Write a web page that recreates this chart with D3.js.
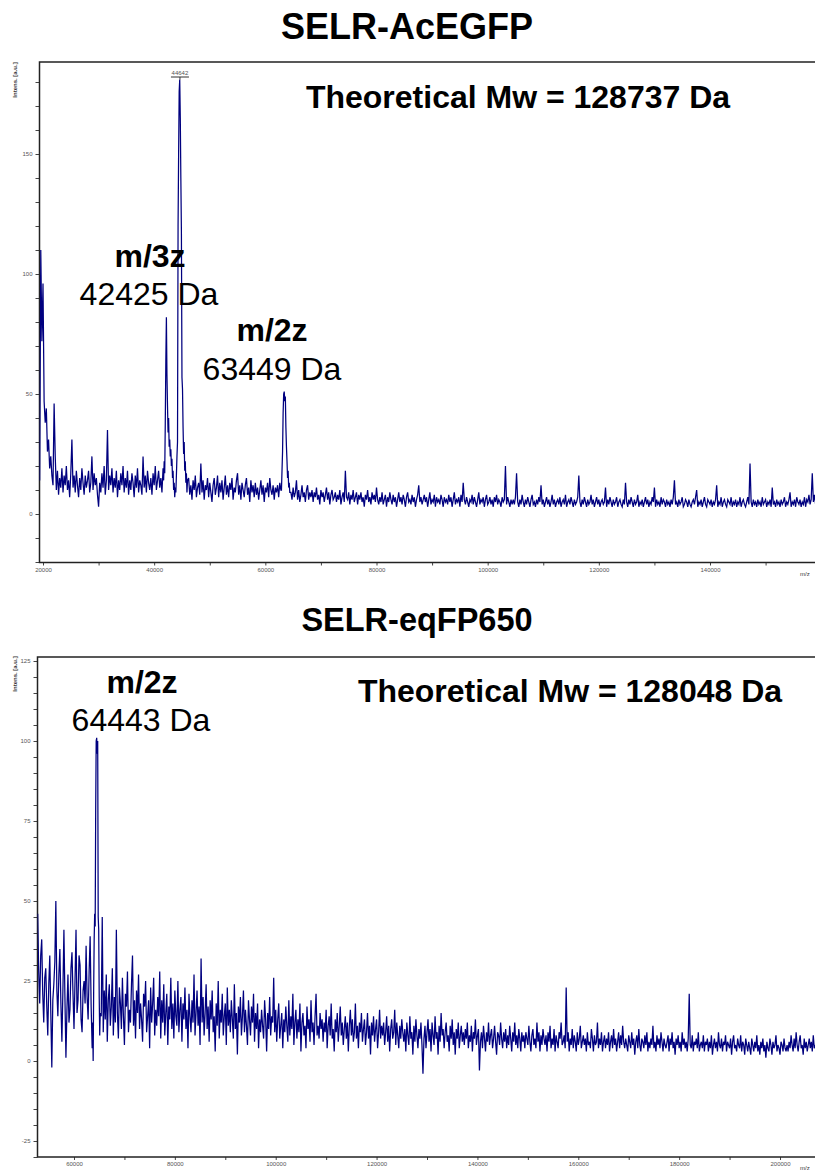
<!DOCTYPE html>
<html>
<head>
<meta charset="utf-8">
<script src="https://cdn.jsdelivr.net/npm/d3@7/dist/d3.min.js"></script>
<style>
  body { margin: 0; background: #fff; }
  svg { display: block; font-family: "Liberation Sans", Arial, sans-serif; }
</style>
</head>
<body>
<svg id="chart"></svg>
<script>
// ---- spectrum 1 : SELR-AcEGFP (intensity, a.u.) ----
// each segment = [first m/z, m/z step, intensities]
const topSeg1 = [14, 110, 72, 96, 47, 38, 44, 26, 31, 19, 24, 16, 12, 46];
const topSeg2 = [
  24, 10, 18, 8, 15, 11, 19, 9, 16, 12, 20, 10, 14, 7, 17, 31, 11, 16, 9, 18,
  12, 7, 15, 10, 19, 13, 8, 16, 11, 14, 18, 9, 13, 24, 10, 17, 12, 15, 8, 3,
  13, 9, 17, 11, 20, 8, 14, 35, 10, 16, 12, 19, 9, 15, 11, 18, 7, 14, 10, 17,
  12, 20, 9, 15, 11, 18, 8, 14, 10, 17, 13, 7, 16, 11, 19, 9, 14, 12, 8, 24,
  11, 16, 9, 18, 13, 10, 15, 8, 17, 12, 20, 10, 14, 18, 11, 15, 9, 19,
];
const topSeg3 = [
  14, 22, 17, 38, 64, 82, 58, 45, 34, 40, 28, 31, 24, 27, 20, 23, 15, 18, 10, 13,
  7, 11, 9, 16, 24, 30, 120, 150, 176, 181, 165, 140, 118, 57, 52, 36, 25, 30, 18, 22,
  13, 17, 9, 14,
];
const topSeg4 = [
  15, 8, 12, 6, 14, 10, 16, 7, 11, 13, 8, 21, 9, 14, 6, 12, 10, 15, 7, 13,
  9, 5, 12, 15, 8, 11, 16, 7, 13, 9, 14, 6, 11, 16, 8, 12, 7, 13, 10, 15,
  6, 11, 9, 14, 17, 8, 12, 6, 13, 10, 7, 12, 15, 8, 11, 5, 14, 9, 12, 7,
  13, 8, 11, 6, 10, 14, 8, 12, 5, 11, 9, 13, 7, 15, 10, 8, 12, 6, 11, 9,
  12, 7, 13, 10,
];
const topSeg5 = [10, 18, 26, 42, 50, 51, 47, 49, 36, 28, 22, 15, 18, 11, 13, 9];
const topSeg6 = [
  9, 6, 11, 7, 9, 14, 6, 10, 5, 8, 12, 7, 9, 5, 10, 12, 6, 9, 7, 10,
  5, 9, 7, 11, 6, 8, 4, 10, 7, 9, 5, 8, 11, 6, 9, 4, 8, 10, 6, 7,
  9, 5, 8, 6, 10, 4, 7, 9, 5, 18, 7, 6, 9, 4, 8, 6, 10, 5, 7, 9,
  4, 8, 6, 9, 5, 7, 3, 8, 6, 10, 5, 7, 4, 9, 6, 8, 5, 11, 6, 4,
  7, 5, 9, 4, 6, 8, 3, 7, 5, 9, 6, 4, 8, 5, 7, 3, 6, 9, 5, 7,
  4, 8, 6, 3, 7, 9, 5, 6, 4, 8, 5, 7, 3, 6, 8, 12, 5, 7, 4, 6,
  8, 5, 7, 3, 6, 9, 4, 6, 5, 8, 3, 7, 5, 6, 4, 8, 6, 3, 7, 5,
  6, 4, 8, 5, 7, 3, 6, 9, 4, 6, 5, 7, 3, 8, 5, 13, 6, 4, 7, 5,
  3, 6, 5, 8, 4, 7, 5, 3, 6, 9, 4, 6, 5, 7, 3, 6, 8, 4, 5, 7,
  4, 6, 3, 7, 5, 8, 4, 6, 5, 3, 7, 5, 6, 20, 4, 7, 5, 3, 6, 4,
  6, 4, 7, 17, 5, 3, 6, 4, 8, 5, 3, 6, 4, 7, 5, 3, 6, 8, 4, 5,
  3, 6, 4, 7, 5, 12, 4, 6, 3, 5, 7, 4, 6, 3, 5, 8, 4, 6, 3, 5,
  6, 4, 7, 3, 5, 6, 4, 8, 3, 5, 6, 4, 7, 5, 3, 6, 4, 5, 7, 16,
  5, 3, 6, 4, 7, 5, 3, 6, 4, 5, 8, 4, 6, 3, 5, 7, 4, 6, 3, 5,
  6, 4, 5, 11, 3, 6, 4, 7, 5, 3, 6, 4, 5, 7, 3, 5, 6, 4, 3, 6,
  4, 13, 5, 3, 6, 4, 7, 5, 3, 6, 4, 5, 8, 3, 5, 4, 6, 3, 5, 7,
  4, 6, 3, 5, 4, 7, 5, 11, 3, 6, 4, 5, 3, 7, 4, 6, 5, 3, 6, 4,
  5, 3, 6, 4, 7, 14, 4, 5, 3, 6, 4, 5, 7, 3, 4, 6, 5, 3, 6, 4,
  3, 5, 6, 4, 7, 10, 3, 5, 4, 6, 3, 5, 7, 4, 3, 6, 5, 4, 6, 3,
  5, 4, 6, 12, 3, 5, 4, 7, 3, 5, 6, 4, 3, 6, 5, 4, 7, 3, 5, 4,
  6, 3, 5, 4, 7, 3, 5, 6, 4, 3, 5, 7, 4, 21, 5, 3, 6, 4, 5, 3,
  6, 4, 5, 3, 7, 4, 5, 6, 3, 5, 4, 6, 3, 11, 4, 5, 3, 6, 4, 5,
  3, 6, 4, 5, 7, 3, 5, 4, 6, 9, 3, 5, 4, 6, 3, 7, 5, 4, 6, 3,
  5, 4, 7, 3, 6, 5, 8, 4, 6, 17, 5, 8, 4,
];
const topSegments = [
  [19400, 200, topSeg1], [22200, 200, topSeg2], [41700, 100, topSeg3],
  [46200, 200, topSeg4], [62900, 100, topSeg5], [64600, 200, topSeg6],
];

// ---- spectrum 2 : SELR-eqFP650 ----
const botSeg1 = [
  46, 28, 18, 33, 38, 21, 12, 26, 29, 17, 8, 24, 33, 15, -2, 19, 24, 31, 50, 22,
  14, 27, 35, 18, 6, 22, 41, 20, 1, 16, 27, 12, 16, 29, 34, 21, 10, 25, 41, 15,
  19, 33, 30, 13, 9, 22, 25, 18, 36, 20, 13, 28, 39, 17, 4,
];
const botSeg2 = [12, 0, 22, 38, 46, 42, 78, 100, 101, 96, 100, 45, 41, 20, 8, 15];
const botSeg3 = [
  14, 45, 9, 22, 13, 27, 6, 19, 24, 11, 17, 29, 8, 20, 12, 41, 15, 7, 23, 18,
  10, 26, 14, 5, 21, 17, 28, 9, 16, 12, 24, 33, 11, 19, 7, 22, 15, 27, 10, 18,
  13, 6, 21, 17, 25, 9, 14, 19, 4, 23, 12, 18, 26, 8, 16, 11, 20, 14, 28, 7,
  19, 12, 24, 8, 15, 21, 5, 17, 13, 26, 10, 18, 7, 22, 14, 11, 25, 9, 16, 20,
  6, 18, 13, 23, 10, 16, 4, 21, 14, 9, 19, 12, 27, 8, 15, 22, 11, 17, 5, 32,
  12, 20, 8, 15, 24, 10, 17, 6, 19, 13, 22, 9, 14, 3, 18, 11, 25, 7, 16, 12,
  21, 8, 14, 18, 5, 23, 11, 16, 9, 19, 13, 7, 24, 10, 15, 2, 17, 12, 20, 8,
  14, 22, 9, 16, 11, 5, 19, 13, 8, 17, 12, 21, 6, 15, 10, 18, 4, 13, 9, 16,
  11, 7, 19, 13, 3, 15, 10, 20, 8, 14, 12, 26, 9, 16, 6, 13, 18, 7, 11, 15,
  4, 13, 9, 17, 11, 6, 19, 8, 14, 10, 21, 5, 12, 16, 7, 13, 9, 18, 3, 12,
  15, 8, 11, 4, 17, 10, 13, 6, 19, 9, 12, 5, 14, 21, 8, 11, 7, 15, 10, 13,
  6, 12, 9, 16, 4, 11, 14, 8, 18, 7, 10, 3, 13, 9, 15, 6, 11, 17, 8, 12,
  5, 10, 14, 7, 12, 3, 11, 16, 8, 13, 6, 9, 18, 7, 11, 4, 12, 9, 15, 6,
  10, 13, 5, 9, 15, 7, 11, 2, 12, 8, 14, 6, 10, 13, 4, 9, 16, 7, 11, 8,
  12, 5, 9, 14, 6, 11, 3, 10, 13, 7, 9, 16, 5, 12, 8, 4, 11, 7, 13, 9,
  6, 10, 3, 12, 8, 5, 14, 7, 9, 2, 11, 6, 13, 8, 4, 10, 7, 12, 5, -4,
  7, 11, 4, 9, 13, 6, 10, 3, 12, 8, 5, 14, 7, 9, 2, 11, 6, 15, 8, 10,
  4, 9, 12, 6, 8, 3, 11, 7, 13, 5, 9, 2, 10, 7, 12, 4, 8, 11, 6, 9,
  5, 10, 7, 12, 4, 8, 6, 11, 3, 9, 7, 13, 5, 8, 10, -3, 6, 9, 4, 11,
  7, 3, 9, 6, 12, 5, 8, 10, 4, 7, 11, 6, 2, 9, 8, 5, 12, 7, 4, 9,
  6, 10, 4, 8, 5, 11, 7, 3, 9, 6, 12, 5, 8, 4, 10, 7, 3, 9, 6, 8,
  4, 9, 7, 5, 11, 6, 3, 8, 10, 5, 7, 4, 12, 6, 9, 3, 8, 5, 10, 7,
  5, 8, 3, 9, 6, 11, 4, 7, 5, 10, 3, 8, 6, 4, 9, 7, 12, 5, 6, 8,
  4, 23, 6, 9, 3, 7, 5, 10, 4, 8, 6, 3, 9, 5, 7, 11, 4, 6, 8, 5,
  7, 3, 9, 5, 6, 4, 10, 7, 3, 8, 5, 6, 12, 4, 7, 5, 9, 3, 6, 8,
  4, 7, 5, 9, 3, 6, 8, 4, 10, 5, 7, 3, 6, 9, 4, 8, 5, 11, 6, 4,
  7, 5, 3, 8, 6, 4, 9, 5, 7, 2, 6, 8, 4, 10, 5, 3, 7, 6, 4, 8,
  5, 9, 3, 6, 4, 7, 5, 11, 4, 6, 3, 8, 5, 7, 4, 9, 6, 3, 7, 5,
  4, 6, 8, 3, 7, 5, 9, 4, 6, 2, 7, 5, 8, 4, 6, 3, 9, 5, 7, 4,
  6, 3, 7, 21, 5, 4, 8, 3, 6, 5, 7, 4, 9, 3, 5, 6, 4, 8, 3, 6,
  5, 7, 3, 6, 4, 8, 2, 5, 7, 4, 6, 3, 9, 5, 4, 7, 3, 6, 5, 8,
  3, 6, 5, 4, 7, 2, 6, 8, 4, 5, 3, 7, 5, 4, 8, 3, 6, 5, 2, 7,
  5, 3, 6, 4, 2, 7, 5, 3, 6, 4, 8, 3, 5, 2, 6, 4, 7, 3, 5, 1,
  6, 4, 3, 7, 5, 2, 6, 4, 5, 8, 3, 5, 4, 2, 6, 5, 3, 7, 4, 3,
  5, 3, 6, 4, 8, 5, 3, 7, 4, 9, 5, 3, 6, 8, 4, 5, 2, 7, 4, 6,
  3, 5, 7, 4, 6, 3, 8, 4, 5,
];
const botSegments = [
  [52800, 200, botSeg1], [63700, 100, botSeg2], [65400, 200, botSeg3],
];

// tick values
const topXTicks = d3.range(20000, 150001, 10000);
const topYTicks = d3.range(-20, 181, 10);
const botXTicks = d3.range(50000, 200001, 10000);
const botYTicks = d3.range(-30, 126, 5);

const W = 815, H = 1171;
const FONT = '"Liberation Sans", Arial, sans-serif';

const svg = d3.select("#chart").attr("width", W).attr("height", H);

function toPoints(segments) {
  return segments.flatMap(([start, step, vals]) =>
    vals.map((v, i) => [start + i * step, v])
  );
}

function drawPanel(cfg) {
  const g = svg.append("g");
  const x = d3.scaleLinear().domain(cfg.xDomain).range(cfg.xRange);
  const y = d3.scaleLinear().domain(cfg.yDomain).range(cfg.yRange);
  const left = cfg.left, top = cfg.top, bottom = cfg.bottom, right = 840;

  // clip
  svg.append("clipPath").attr("id", cfg.id)
    .append("rect")
    .attr("x", left).attr("y", top)
    .attr("width", right - left).attr("height", bottom - top);

  // x axis
  const xa = g.append("g")
    .attr("transform", `translate(0,${bottom})`)
    .call(d3.axisBottom(x).tickValues(cfg.xTicks.filter(d => x(d) >= left))
      .tickSize(3).tickPadding(2)
      .tickFormat(d => (d % 20000 === 0 ? d : "")));
  xa.select(".domain").remove();
  xa.selectAll("text").style("font-size", "6px").attr("fill", "#555").style("font-family", FONT);
  xa.selectAll("line").attr("stroke", "#444");

  // y axis
  const ya = g.append("g")
    .attr("transform", `translate(${left},0)`)
    .call(d3.axisLeft(y).tickValues(cfg.yTicks.filter(d => y(d) >= top && y(d) <= bottom))
      .tickSize(4).tickPadding(3)
      .tickFormat(d => (d % cfg.yLabelEvery === 0 ? d : "")));
  ya.select(".domain").remove();
  ya.selectAll("text").style("font-size", "6px").attr("fill", "#555").style("font-family", FONT);
  ya.selectAll("line").attr("stroke", "#444");

  // frame
  g.append("rect")
    .attr("x", left).attr("y", top)
    .attr("width", right - left).attr("height", bottom - top)
    .attr("fill", "none").attr("stroke", "#222").attr("stroke-width", 1.5);

  // spectrum trace
  const line = d3.line().x(d => x(d[0])).y(d => y(d[1]));
  g.append("path")
    .datum(toPoints(cfg.segments))
    .attr("clip-path", `url(#${cfg.id})`)
    .attr("d", line)
    .attr("fill", "none")
    .attr("stroke", "#00007f")
    .attr("stroke-width", 1.25);

  // axis titles
  g.append("text")
    .attr("transform", `translate(17,${cfg.yTitleY}) rotate(-90)`)
    .attr("text-anchor", "middle")
    .style("font-size", "6px").style("font-weight", "bold")
    .attr("fill", "#333")
    .text("Intens. [a.u.]");
  g.append("text")
    .attr("x", 800).attr("y", bottom + 13)
    .style("font-size", "6px").attr("fill", "#333")
    .text("m/z");

  return { g, x, y };
}

function bigText(g, txt, cx, by, size, weight) {
  g.append("text")
    .attr("x", cx).attr("y", by)
    .attr("text-anchor", "middle")
    .style("font-size", size + "px")
    .style("font-weight", weight)
    .attr("fill", "#000")
    .text(txt);
}

// ---- top panel ----
const p1 = drawPanel({
  id: "clipTop",
  segments: topSegments,
  xDomain: [20000, 140000], xRange: [43, 710],
  yDomain: [0, 150], yRange: [514, 154],
  left: 39.5, top: 62, bottom: 562.5,
  xTicks: topXTicks, yTicks: topYTicks, yLabelEvery: 50,
  yTitleY: 80,
});
bigText(svg, "SELR-AcEGFP", 407, 39, 36, "bold");
bigText(svg, "Theoretical Mw = 128737 Da", 518, 108, 32, "bold");
bigText(svg, "m/3z", 150, 267, 32, "bold");
bigText(svg, "42425 Da", 149, 305, 32, "normal");
bigText(svg, "m/2z", 272, 341, 32, "bold");
bigText(svg, "63449 Da", 272, 380, 32, "normal");

// peak annotation
const pk = 44642;
p1.g.append("line")
  .attr("x1", p1.x(pk) - 9).attr("x2", p1.x(pk) + 9)
  .attr("y1", 77).attr("y2", 77)
  .attr("stroke", "#333").attr("stroke-width", 1);
p1.g.append("line")
  .attr("x1", p1.x(pk)).attr("x2", p1.x(pk))
  .attr("y1", 77).attr("y2", p1.y(181))
  .attr("stroke", "#333").attr("stroke-width", 1);
p1.g.append("text")
  .attr("x", p1.x(pk)).attr("y", 75)
  .attr("text-anchor", "middle")
  .style("font-size", "6px").attr("fill", "#555")
  .text(pk);

// ---- bottom panel ----
const p2 = drawPanel({
  id: "clipBot",
  segments: botSegments,
  xDomain: [60000, 200000], xRange: [74, 780],
  yDomain: [0, 100], yRange: [1061, 741],
  left: 37.5, top: 657, bottom: 1157,
  xTicks: botXTicks, yTicks: botYTicks, yLabelEvery: 25,
  yTitleY: 674,
});
bigText(svg, "SELR-eqFP650", 417, 631, 32.5, "bold");
bigText(svg, "Theoretical Mw = 128048 Da", 570, 702, 32, "bold");
bigText(svg, "m/2z", 142, 693, 32, "bold");
bigText(svg, "64443 Da", 141, 731, 32, "normal");
</script>
</body>
</html>
